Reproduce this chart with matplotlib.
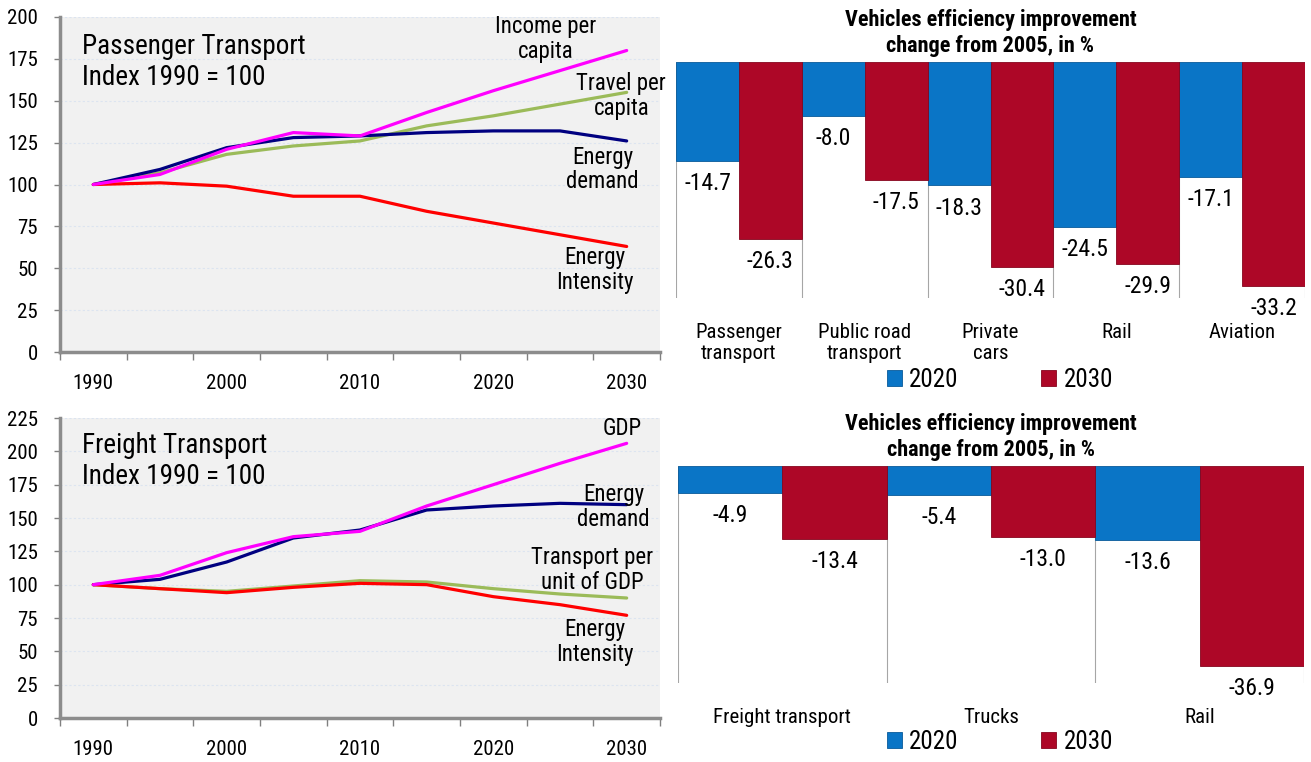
import matplotlib
matplotlib.use("Agg")
import matplotlib.pyplot as plt
from matplotlib import font_manager
from matplotlib.ticker import FixedLocator, NullFormatter

# --- donnees : indices 1990 = 100 ---
years = [1990, 1995, 2000, 2005, 2010, 2015, 2020, 2025, 2030]
year_labels = [1990, 2000, 2010, 2020, 2030]

pass_income = [100, 106, 121, 131, 129, 143, 156, 168, 180]
pass_travel = [100, 107, 118, 123, 126, 135, 141, 148, 155]
pass_energy = [100, 109, 122, 128, 129, 131, 132, 132, 126]
pass_intensity = [100, 101, 99, 93, 93, 84, 77, 70, 63]

frt_gdp = [100, 107, 124, 136, 140, 159, 175, 191, 206]
frt_energy = [100, 104, 117, 135, 141, 156, 159, 161, 160]
frt_transport = [100, 97, 95, 99, 103, 102, 97, 93, 90]
frt_intensity = [100, 97, 94, 98, 101, 100, 91, 85, 77]

# --- donnees : efficacite des vehicules ---
pass_cats = ["Passenger\ntransport", "Public road\ntransport", "Private\ncars", "Rail", "Aviation"]
pass_2020 = [-14.7, -8.0, -18.3, -24.5, -17.1]
pass_2030 = [-26.3, -17.5, -30.4, -29.9, -33.2]

frt_cats = ["Freight transport", "Trucks", "Rail"]
frt_2020 = [-4.9, -5.4, -13.6]
frt_2030 = [-13.4, -13.0, -36.9]

# police etroite si disponible
installed = {f.name for f in font_manager.fontManager.ttflist}
narrow = next((f for f in ["Liberation Sans Narrow", "DejaVu Sans Condensed",
                           "Roboto Condensed", "Liberation Sans"] if f in installed),
              "DejaVu Sans")
plt.rcParams["font.family"] = [narrow, "DejaVu Sans"]

W, H = 1311, 762
fig = plt.figure(figsize=(W / 100, H / 100), dpi=100)


def px_axes(left, top, right, bottom):
    return fig.add_axes([left / W, 1 - bottom / H, (right - left) / W, (bottom - top) / H])


C_NAVY = "#000080"
C_MAG = "#FF00FF"
C_GREEN = "#9BBB59"
C_RED = "#FF0000"
C_BLUE = "#0A75C6"
C_DRED = "#AD0727"


def line_chart(ax, series, ymax, title, title_y, notes):
    ax.set_facecolor("#F1F1F1")
    for vals, col in series:
        ax.plot(years, vals, color=col, lw=2.3, solid_capstyle="round",
                solid_joinstyle="round", zorder=3)
    ax.set_xlim(1987.5, 2032.5)
    ax.set_ylim(0, ymax)
    ax.set_yticks(range(0, ymax + 1, 25))
    ax.grid(axis="y", color="#DCE4F0", lw=0.8, ls=(0, (2, 2)))
    ax.set_axisbelow(True)
    ax.xaxis.set_major_locator(FixedLocator([1987.5 + 5 * k for k in range(10)]))
    ax.xaxis.set_major_formatter(NullFormatter())
    ax.xaxis.set_minor_locator(FixedLocator(year_labels))
    ax.set_xticklabels([str(y) for y in year_labels], minor=True)
    ax.tick_params(axis="x", which="major", length=6, width=1, color="#808080", direction="out")
    ax.tick_params(axis="x", which="minor", length=0, pad=16, labelsize=15)
    ax.tick_params(axis="y", length=4, width=1, color="#808080", pad=12, labelsize=15)
    for s in ["top", "right"]:
        ax.spines[s].set_visible(False)
    for s in ["left", "bottom"]:
        ax.spines[s].set_color("#8C8C8C")
        ax.spines[s].set_linewidth(2.5)
    ax.text(0.037, title_y, title, transform=ax.transAxes, fontsize=19.5,
            va="center", ha="left", linespacing=1.2)
    for x, y, txt in notes:
        ax.text(x, y, txt, fontsize=16.5, ha="center", va="center", linespacing=1.1)


def bar_chart(ax, cats, v20, v30, ymin, legend_y):
    n = len(cats)
    xs = list(range(n))
    w = 0.5
    ax.bar([x - w / 2 for x in xs], v20, width=w, color=C_BLUE, edgecolor="#085A9A",
           lw=0.6, label="2020", zorder=3)
    ax.bar([x + w / 2 for x in xs], v30, width=w, color=C_DRED, edgecolor="#85051E",
           lw=0.6, label="2030", zorder=3)
    for x, a, b in zip(xs, v20, v30):
        ax.annotate(f"{a:.1f}", (x - w / 2, a), xytext=(0, -8), textcoords="offset points",
                    ha="center", va="top", fontsize=17)
        ax.annotate(f"{b:.1f}", (x + w / 2, b), xytext=(0, -8), textcoords="offset points",
                    ha="center", va="top", fontsize=17)
    ax.set_xlim(-0.5, n - 0.5)
    ax.set_ylim(ymin, 0)
    for k in range(n + 1):
        ax.axvline(k - 0.5, color="#A6A6A6", lw=0.8, zorder=1)
    for s in ax.spines.values():
        s.set_visible(False)
    ax.set_yticks([])
    ax.set_xticks(xs)
    ax.set_xticklabels(cats, fontsize=15, linespacing=1.15)
    ax.tick_params(axis="x", length=0, pad=18)
    ax.set_title("Vehicles efficiency improvement\nchange from 2005, in %",
                 fontsize=16, fontweight="bold", pad=7, linespacing=1.25)
    ax.legend(loc="center", bbox_to_anchor=(1000 / W, 1 - legend_y / H),
              bbox_transform=fig.transFigure, ncol=2, frameon=False,
              fontsize=18, handlelength=0.6, handleheight=0.6, columnspacing=3.3,
              handletextpad=0.3, borderpad=0)


ax1 = px_axes(60, 17, 660, 352)
line_chart(ax1,
           [(pass_travel, C_GREEN), (pass_energy, C_NAVY), (pass_intensity, C_RED),
            (pass_income, C_MAG)],
           200, "Passenger Transport\nIndex 1990 = 100", 0.866,
           [(2023.9, 187, "Income per\ncapita"),
            (2029.6, 153, "Travel per\ncapita"),
            (2028.2, 109, "Energy\ndemand"),
            (2027.6, 49, "Energy\nIntensity")])

ax2 = px_axes(60, 418, 660, 718)
line_chart(ax2,
           [(frt_transport, C_GREEN), (frt_energy, C_NAVY), (frt_intensity, C_RED),
            (frt_gdp, C_MAG)],
           225, "Freight Transport\nIndex 1990 = 100", 0.857,
           [(2029.7, 217, "GDP"),
            (2029.0, 158, "Energy\ndemand"),
            (2027.4, 111, "Transport per\nunit of GDP"),
            (2027.6, 57, "Energy\nIntensity")])

ax3 = px_axes(676, 62, 1305, 298)
bar_chart(ax3, pass_cats, pass_2020, pass_2030, -35, 380)

ax4 = px_axes(678, 466, 1304, 683)
bar_chart(ax4, frt_cats, frt_2020, frt_2030, -40, 742)

fig.savefig("out.png", dpi=100)
